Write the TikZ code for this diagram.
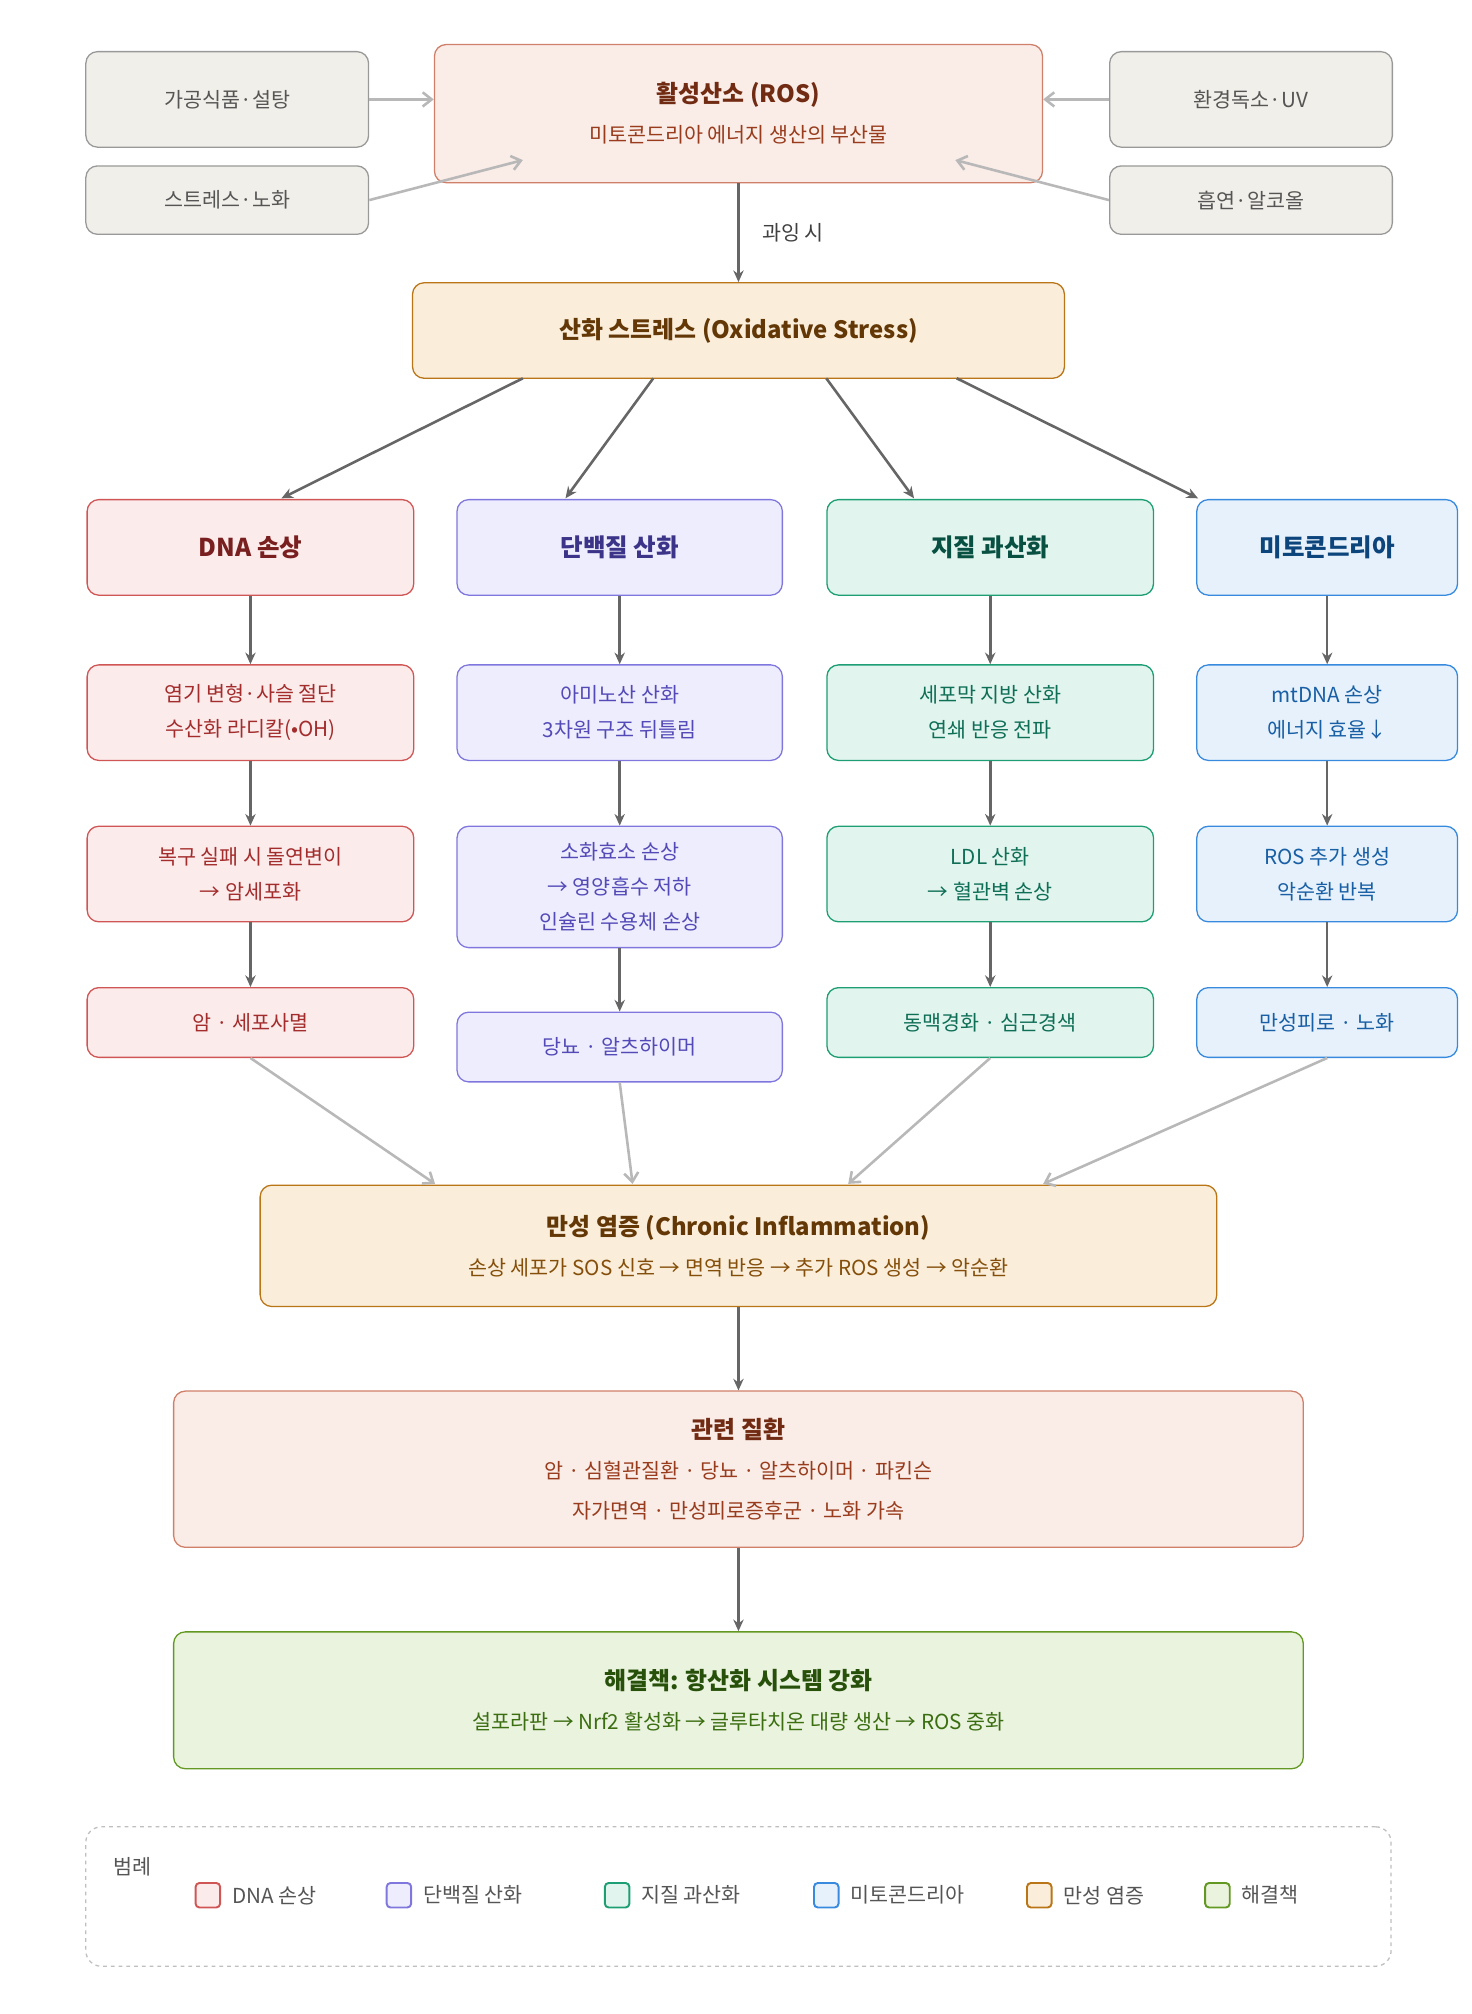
\documentclass[tikz,border=0pt]{standalone}
\usepackage{fontspec}
\setmainfont{Noto Sans CJK KR}
\usetikzlibrary{positioning}
\usetikzlibrary{arrows.meta}
\definecolor{grayfill}{HTML}{F1EFE9}\definecolor{graytxt}{HTML}{555555}
\definecolor{rosfill}{HTML}{FAECE7}\definecolor{rosdraw}{HTML}{D0806A}\definecolor{rostitle}{HTML}{712B13}\definecolor{rostxt}{HTML}{993C1D}
\definecolor{ambfill}{HTML}{FAEEDA}\definecolor{ambdraw}{HTML}{BA7517}\definecolor{ambtitle}{HTML}{633806}\definecolor{ambtxt}{HTML}{854F0B}
\definecolor{dnafill}{HTML}{FCEBEB}\definecolor{dnadraw}{HTML}{D05555}\definecolor{dnatitle}{HTML}{791F1F}\definecolor{dnatxt}{HTML}{A32D2D}
\definecolor{profill}{HTML}{EEEDFE}\definecolor{prodraw}{HTML}{7F77DD}\definecolor{protitle}{HTML}{3C3489}\definecolor{protxt}{HTML}{534AB7}
\definecolor{lipfill}{HTML}{E1F5EE}\definecolor{lipdraw}{HTML}{1D9E75}\definecolor{liptitle}{HTML}{085041}\definecolor{liptxt}{HTML}{0F6E56}
\definecolor{mitfill}{HTML}{E6F1FB}\definecolor{mitdraw}{HTML}{378ADD}\definecolor{mittitle}{HTML}{0C447C}\definecolor{mittxt}{HTML}{185FA5}
\definecolor{solfill}{HTML}{EAF3DE}\definecolor{soldraw}{HTML}{639922}\definecolor{soltitle}{HTML}{27500A}\definecolor{soltxt}{HTML}{3B6D11}

\begin{document}
\begin{tikzpicture}
        [x=1pt, y=-1pt,
        every node/.style = {rectangle, rounded corners = 9pt, inner sep = 0, align = center, line width = 1pt},
        box/.style = {font = {\fontsize{16}{27}\selectfont}},
        titlebox/.style = {font = {\fontsize{18.5}{31}\selectfont}},
        src/.style = {draw = gray!80, fill = grayfill, text = graytxt, minimum width = 219pt, font = {\fontsize{16}{20}\selectfont}},
        dark/.style = {-{Stealth[length=9pt,width=8pt]}, draw = black!60, line width = 2pt},
        light/.style = {-{Straight Barb[length=7pt,width=11pt]}, draw = black!28, line width = 2pt},
        dnab/.style = {box, draw = dnadraw, fill = dnafill, text = dnatxt, minimum width = 253pt},
        prob/.style = {box, draw = prodraw, fill = profill, text = protxt, minimum width = 252pt},
        lipb/.style = {box, draw = lipdraw, fill = lipfill, text = liptxt, minimum width = 253pt},
        mitb/.style = {box, draw = mitdraw, fill = mitfill, text = mittxt, minimum width = 202pt},
        key/.style = {draw, minimum width = 19pt, minimum height = 19pt, rounded corners = 3pt, line width = 1.5pt},
        keytext/.style = {right = 8pt, rectangle, font = {\fontsize{16}{20}\selectfont}, text = graytxt}]
        \useasboundingbox (0,0) rectangle (1140,1560);
        % sources
        \node (food) [src, minimum height = 74pt] at (176, 77) {가공식품·설탕};
        \node (stress2) [src, minimum height = 53pt] at (176, 155) {스트레스·노화};
        \node (env) [src, minimum height = 74pt] at (969, 77) {환경독소·UV};
        \node (smoke) [src, minimum height = 53pt] at (969, 155) {흡연·알코올};
        \node (ros) [titlebox, draw = rosdraw, fill = rosfill, minimum width = 471pt, minimum height = 107pt] at (572, 88)
            {\textcolor{rostitle}{\bfseries 활성산소 (ROS)}\\\textcolor{rostxt}{\fontsize{16}{20}\selectfont 미토콘드리아 에너지 생산의 부산물}};
        \coordinate (rosl) at (405, 124);
        \coordinate (rosr) at (740, 124);
        \draw[light] (food) -- (food.east -| ros.west);
        \draw[light] (stress2.east) -- (rosl);
        \draw[light] (env) -- (env.west -| ros.east);
        \draw[light] (smoke.west) -- (rosr);
        % stress
        \node (ox) [titlebox, draw = ambdraw, fill = ambfill, text = ambtitle, minimum width = 505pt, minimum height = 74pt] at (572, 256)
            {\bfseries 산화 스트레스 (Oxidative Stress)};
        \draw[dark] (ros) -- node[right = 18pt, rectangle, font = {\fontsize{16}{20}\selectfont}, text = black!75] {과잉 시} (ox);
        % columns
        \node (dna) [dnab, text = dnatitle, minimum height = 74pt, font = {\fontsize{19}{24}\selectfont\bfseries}] at (194, 424) {DNA 손상};
        \node (dna1) [dnab, minimum height = 74pt] at (194, 552) {염기 변형·사슬 절단\\수산화 라디칼(•OH)};
        \node (dna2) [dnab, minimum height = 74pt] at (194, 677) {복구 실패 시 돌연변이\\→ 암세포화};
        \node (dna3) [dnab, minimum height = 54pt] at (194, 792) {암 · 세포사멸};
        \node (pro) [prob, text = protitle, minimum height = 74pt, font = {\fontsize{19}{24}\selectfont\bfseries}] at (480, 424) {단백질 산화};
        \node (pro1) [prob, minimum height = 74pt] at (480, 552) {아미노산 산화\\3차원 구조 뒤틀림};
        \node (pro2) [prob, minimum height = 94pt] at (480, 687) {소화효소 손상\\→ 영양흡수 저하\\인슐린 수용체 손상};
        \node (pro3) [prob, minimum height = 54pt] at (480, 811) {당뇨 · 알츠하이머};
        \node (lip) [lipb, text = liptitle, minimum height = 74pt, font = {\fontsize{19}{24}\selectfont\bfseries}] at (767, 424) {지질 과산화};
        \node (lip1) [lipb, minimum height = 74pt] at (767, 552) {세포막 지방 산화\\연쇄 반응 전파};
        \node (lip2) [lipb, minimum height = 74pt] at (767, 677) {LDL 산화\\→ 혈관벽 손상};
        \node (lip3) [lipb, minimum height = 54pt] at (767, 792) {동맥경화 · 심근경색};
        \node (mit) [mitb, text = mittitle, minimum height = 74pt, font = {\fontsize{19}{24}\selectfont\bfseries}] at (1028, 424) {미토콘드리아};
        \node (mit1) [mitb, minimum height = 74pt] at (1028, 552) {mtDNA 손상\\에너지 효율↓};
        \node (mit2) [mitb, minimum height = 74pt] at (1028, 677) {ROS 추가 생성\\악순환 반복};
        \node (mit3) [mitb, minimum height = 54pt] at (1028, 792) {만성피로 · 노화};
        \coordinate (oxa) at (405, 293);
        \coordinate (oxb) at (506, 293);
        \coordinate (oxc) at (640, 293);
        \coordinate (oxd) at (741, 293);
        \draw[dark] (oxa) -- (218, 386);
        \draw[dark] (oxb) -- (438, 386);
        \draw[dark] (oxc) -- (708, 386);
        \draw[dark] (oxd) -- (928, 386);
        \foreach \c in {dna, pro, lip, mit} {
            \draw[dark] (\c) -- (\c1);
            \draw[dark] (\c1) -- (\c2);
            \draw[dark] (\c2) -- (\c3);
        }
        % inflammation
        \node (inf) [titlebox, draw = ambdraw, fill = ambfill, minimum width = 741pt, minimum height = 94pt] at (572, 965)
            {\textcolor{ambtitle}{\bfseries 만성 염증 (Chronic Inflammation)}\\\textcolor{ambtxt}{\fontsize{16}{20}\selectfont 손상 세포가 SOS 신호 → 면역 반응 → 추가 ROS 생성 → 악순환}};
        \draw[light] (dna3.south) -- (337, 917);
        \draw[light] (pro3.south) -- (490, 917);
        \draw[light] (lip3.south) -- (657, 917);
        \draw[light] (mit3.south) -- (808, 917);
        % diseases
        \node (dis) [titlebox, draw = rosdraw, fill = rosfill, minimum width = 875pt, minimum height = 121pt] at (572, 1138)
            {\textcolor{rostitle}{\bfseries 관련 질환}\\\textcolor{rostxt}{\fontsize{16}{31}\selectfont 암 · 심혈관질환 · 당뇨 · 알츠하이머 · 파킨슨}\\\textcolor{rostxt}{\fontsize{16}{31}\selectfont 자가면역 · 만성피로증후군 · 노화 가속}};
        \draw[dark] (inf) -- (dis);
        % solution
        \node (sol) [titlebox, draw = soldraw, fill = solfill, minimum width = 875pt, minimum height = 106pt] at (572, 1317)
            {\textcolor{soltitle}{\bfseries 해결책: 항산화 시스템 강화}\\\textcolor{soltxt}{\fontsize{16}{22}\selectfont 설포라판 → Nrf2 활성화 → 글루타치온 대량 생산 → ROS 중화}};
        \draw[dark] (dis) -- (sol);
        % legend
        \node (legend) [draw = black!25, dashed, minimum width = 1011pt, minimum height = 108pt, rounded corners = 12pt] at (572, 1469) {};
        \node (legendt) [rectangle, font = {\fontsize{16}{20}\selectfont}, text = graytxt] at (103, 1446) {범례};
        \node (k1) [key, draw = dnadraw, fill = dnafill] at (161, 1468) {};
        \node (k1t) [keytext, right = 8pt of k1] {DNA 손상};
        \node (k2) [key, draw = prodraw, fill = profill] at (309, 1468) {};
        \node (k2t) [keytext, right = 8pt of k2] {단백질 산화};
        \node (k3) [key, draw = lipdraw, fill = lipfill] at (478, 1468) {};
        \node (k3t) [keytext, right = 8pt of k3] {지질 과산화};
        \node (k4) [key, draw = mitdraw, fill = mitfill] at (640, 1468) {};
        \node (k4t) [keytext, right = 8pt of k4] {미토콘드리아};
        \node (k5) [key, draw = ambdraw, fill = ambfill] at (805, 1468) {};
        \node (k5t) [keytext, right = 8pt of k5] {만성 염증};
        \node (k6) [key, draw = soldraw, fill = solfill] at (943, 1468) {};
        \node (k6t) [keytext, right = 8pt of k6] {해결책};
    \end{tikzpicture}
\end{document}
